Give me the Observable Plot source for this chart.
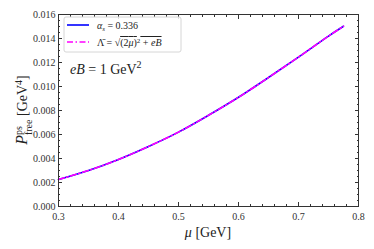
<!DOCTYPE html>
<html><head><meta charset="utf-8">
<script src="https://cdn.jsdelivr.net/npm/d3@7"></script>
<script src="https://cdn.jsdelivr.net/npm/@observablehq/plot@0.6"></script>
<style>
html,body{margin:0;padding:0;background:#fff;}
svg{display:block;}
</style></head>
<body><div id="chart"></div>
<script>
const mu      = [0.30, 0.35, 0.40, 0.45, 0.50, 0.55, 0.60, 0.65, 0.70, 0.75, 0.775];
const pAlpha  = [0.00225, 0.00300, 0.00392, 0.00500, 0.00620, 0.00760, 0.00910, 0.01075, 0.01245, 0.01420, 0.01502];
const pLambda = [0.00225, 0.00300, 0.00392, 0.00500, 0.00620, 0.00760, 0.00910, 0.01075, 0.01245, 0.01420, 0.01502];
const xTicks = [0.3, 0.4, 0.5, 0.6, 0.7, 0.8];
const yTicks = [0, 0.002, 0.004, 0.006, 0.008, 0.010, 0.012, 0.014, 0.016];
const xMinor = d3.range(0.30, 0.8001, 0.02);
const yMinor = d3.range(0, 0.01601, 0.0005);

const dataA = mu.map((m, i) => ({mu: m, p: pAlpha[i]}));
const dataL = mu.map((m, i) => ({mu: m, p: pLambda[i]}));

const font = "Liberation Serif, DejaVu Serif, serif";
const inTick = (axisFn, anchor, ticks, size) =>
  axisFn({anchor, ticks, tickSize: -size, label: null, tickFormat: () => "", stroke: "#333"});

const chart = Plot.plot({
  width: 374, height: 249,
  marginLeft: 58, marginRight: 16, marginTop: 14, marginBottom: 43,
  style: {fontFamily: font, fontSize: "10px", color: "#333", background: "#fff"},
  x: {domain: [0.3, 0.8]},
  y: {domain: [0, 0.016]},
  marks: [
    Plot.line(dataA, {x: "mu", y: "p", stroke: "#0000ff", strokeWidth: 1.6, curve: "catmull-rom"}),
    Plot.line(dataL, {x: "mu", y: "p", stroke: "#ff00ff", strokeWidth: 1.6, strokeDasharray: "6,2.5,1.5,2.5", curve: "catmull-rom"}),
    Plot.frame({stroke: "#333", strokeWidth: 1}),
    inTick(Plot.axisX, "bottom", xTicks, 4),
    inTick(Plot.axisX, "bottom", xMinor, 2),
    inTick(Plot.axisX, "top", xTicks, 4),
    inTick(Plot.axisX, "top", xMinor, 2),
    inTick(Plot.axisY, "left", yTicks, 4),
    inTick(Plot.axisY, "left", yMinor, 2),
    inTick(Plot.axisY, "right", yTicks, 4),
    inTick(Plot.axisY, "right", yMinor, 2),
    Plot.axisX({anchor: "bottom", ticks: xTicks, tickSize: 0, tickPadding: 6, tickFormat: d3.format(".1f"), label: null}),
    Plot.axisY({anchor: "left", ticks: yTicks, tickSize: 0, tickPadding: 3, tickFormat: d3.format(".3f"), label: null})
  ]
});
document.getElementById("chart").appendChild(chart);

const svg = d3.select(chart);
// x label
const xl = svg.append("text").attr("x", 208).attr("y", 237).attr("text-anchor", "middle")
  .attr("font-family", font).attr("font-size", 14).attr("fill", "#222");
xl.append("tspan").attr("font-style", "italic").text("μ");
xl.append("tspan").text(" [GeV]");
// y label
const yl = svg.append("text").attr("transform", "translate(27,110) rotate(-90)").attr("text-anchor", "middle")
  .attr("font-family", font).attr("font-size", 14).attr("fill", "#222");
yl.append("tspan").attr("font-style", "italic").attr("font-size", 16).text("P");
yl.append("tspan").attr("font-size", 10).attr("dy", -5).text("ps");
yl.append("tspan").attr("font-size", 10).attr("dx", -9).attr("dy", 10).text("free");
yl.append("tspan").attr("dy", -5).text(" [GeV");
yl.append("tspan").attr("font-size", 10).attr("dy", -5).text("4");
yl.append("tspan").attr("dy", 5).text("]");
// annotation
const an = svg.append("text").attr("x", 70).attr("y", 74).attr("text-anchor", "start").attr("font-family", font)
  .attr("font-size", 14).attr("fill", "#222");
an.append("tspan").attr("font-style", "italic").text("eB");
an.append("tspan").text(" = 1 GeV");
an.append("tspan").attr("font-size", 10).attr("dy", -6).text("2");
// legend
const lg = svg.append("g").attr("text-anchor", "start");
lg.append("rect").attr("x", 64).attr("y", 17).attr("width", 117).attr("height", 35).attr("rx", 2)
  .attr("fill", "#fff").attr("fill-opacity", 0.85).attr("stroke", "#d6d6d6");
lg.append("line").attr("x1", 67).attr("x2", 89).attr("y1", 25).attr("y2", 25)
  .attr("stroke", "#0000ff").attr("stroke-width", 1.6);
lg.append("line").attr("x1", 67).attr("x2", 89).attr("y1", 42).attr("y2", 42)
  .attr("stroke", "#ff00ff").attr("stroke-width", 1.6).attr("stroke-dasharray", "6,2.5,1.5,2.5");
const t1 = lg.append("text").attr("x", 97).attr("y", 28.5).attr("text-anchor", "start").attr("font-family", font).attr("font-size", 10).attr("fill", "#222");
t1.append("tspan").attr("font-style", "italic").text("α");
t1.append("tspan").attr("font-style", "italic").attr("font-size", 7).attr("dy", 2).text("s");
t1.append("tspan").attr("dy", -2).text(" = 0.336");
const t2 = lg.append("text").attr("x", 97).attr("y", 46).attr("text-anchor", "start").attr("font-family", font).attr("font-size", 10).attr("fill", "#222");
t2.append("tspan").text("Λ̄ = √");
t2.append("tspan").attr("text-decoration", "overline").text("(2");
t2.append("tspan").attr("text-decoration", "overline").attr("font-style", "italic").text("μ");
t2.append("tspan").attr("text-decoration", "overline").text(")");
t2.append("tspan").attr("font-size", 7).attr("dy", -3).text("2");
t2.append("tspan").attr("dy", 3).attr("text-decoration", "overline").text(" + ");
t2.append("tspan").attr("text-decoration", "overline").attr("font-style", "italic").text("eB");
</script>
</body></html>
